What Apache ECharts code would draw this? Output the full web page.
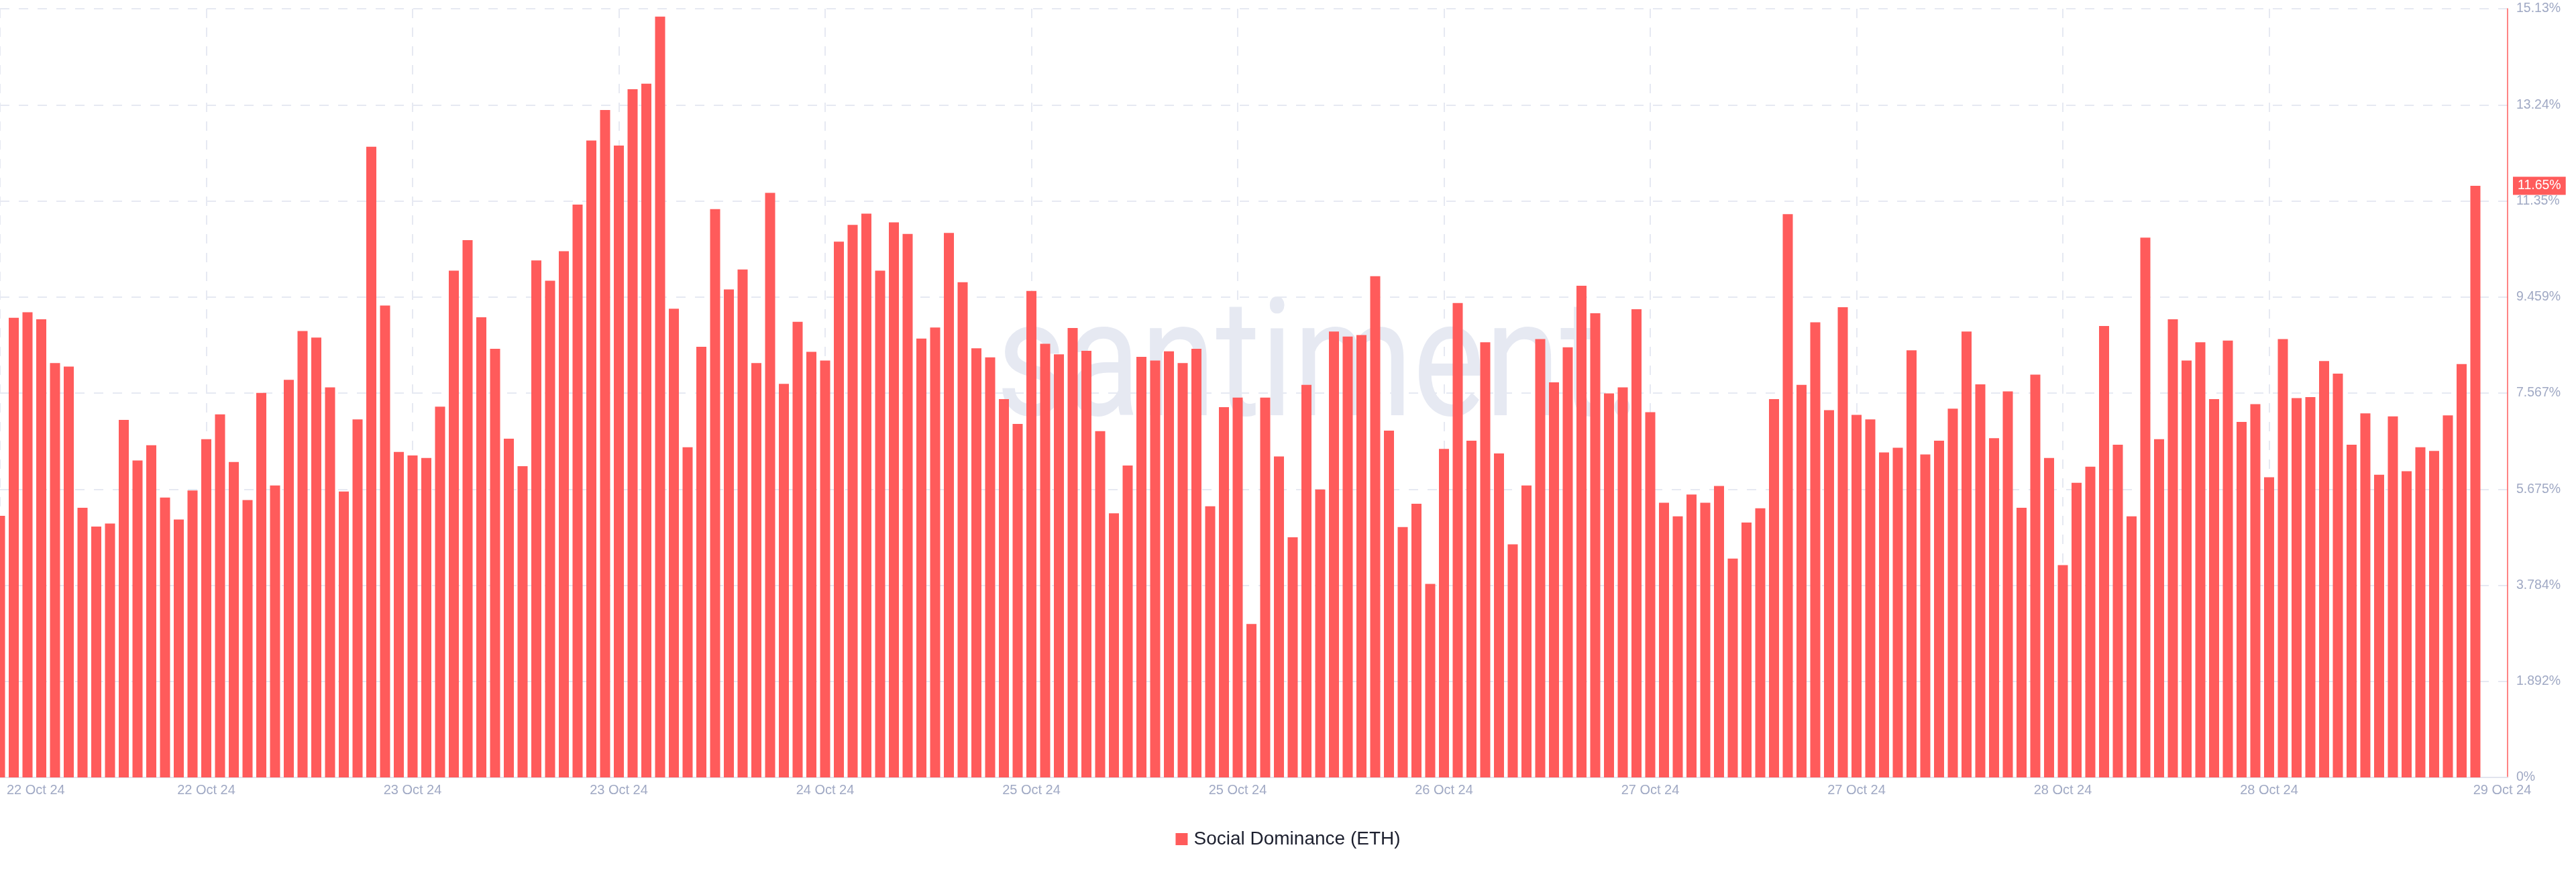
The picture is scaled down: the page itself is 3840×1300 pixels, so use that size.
<!DOCTYPE html>
<html>
<head>
<meta charset="utf-8">
<script src="https://cdn.jsdelivr.net/npm/echarts@6/dist/echarts.min.js"></script>
<style>
html,body{margin:0;padding:0;background:#ffffff;}
#chart{width:3840px;height:1300px;}
</style>
</head>
<body>
<div id="chart"></div>
<script>
// ---------- data ----------
const seriesName = 'Social Dominance (ETH)';
const startHourUTC = Date.UTC(2024, 9, 22, 0, 0); // first hourly bar
const values = [
  5.15, 9.05, 9.16, 9.02, 8.16, 8.09, 5.31, 4.94, 5.00, 7.04,
  6.24, 6.54, 5.51, 5.08, 5.65, 6.66, 7.15, 6.21, 5.46, 7.57,
  5.75, 7.83, 8.79, 8.66, 7.68, 5.63, 7.05, 12.42, 9.29, 6.41,
  6.34, 6.29, 7.30, 9.98, 10.58, 9.06, 8.44, 6.67, 6.13, 10.18,
  9.78, 10.36, 11.28, 12.54, 13.14, 12.44, 13.55, 13.66, 14.98, 9.23,
  6.50, 8.48, 11.19, 9.61, 10.00, 8.16, 11.51, 7.75, 8.97, 8.38,
  8.21, 10.55, 10.88, 11.10, 9.98, 10.93, 10.70, 8.64, 8.86, 10.72,
  9.75, 8.45, 8.27, 7.45, 6.96, 9.58, 8.54, 8.33, 8.85, 8.40,
  6.82, 5.20, 6.14, 8.28, 8.21, 8.39, 8.16, 8.44, 5.34, 7.29,
  7.48, 3.02, 7.48, 6.32, 4.73, 7.73, 5.67, 8.78, 8.68, 8.71,
  9.87, 6.83, 4.93, 5.39, 3.81, 6.47, 9.34, 6.63, 8.57, 6.38,
  4.59, 5.75, 8.63, 7.78, 8.47, 9.68, 9.14, 7.56, 7.68, 9.22,
  7.19, 5.41, 5.14, 5.57, 5.41, 5.74, 4.31, 5.02, 5.30, 7.45,
  11.09, 7.73, 8.96, 7.23, 9.26, 7.14, 7.05, 6.40, 6.49, 8.41,
  6.36, 6.63, 7.26, 8.78, 7.74, 6.68, 7.60, 5.31, 7.93, 6.29,
  4.18, 5.80, 6.12, 8.89, 6.55, 5.14, 10.63, 6.66, 9.02, 8.21,
  8.57, 7.45, 8.60, 7.00, 7.35, 5.91, 8.63, 7.47, 7.49, 8.20,
  7.95, 6.55, 7.17, 5.96, 7.11, 6.03, 6.50, 6.43, 7.13, 8.14,
  11.65
];
const xTickLabels = ['22 Oct 24', '22 Oct 24', '23 Oct 24', '23 Oct 24', '24 Oct 24', '25 Oct 24',
  '25 Oct 24', '26 Oct 24', '27 Oct 24', '27 Oct 24', '28 Oct 24', '28 Oct 24', '29 Oct 24'];
const yTickLabels = ['0%', '1.892%', '3.784%', '5.675%', '7.567%', '9.459%', '11.35%', '13.24%', '15.13%'];
const yInterval = 1.892;
const yMax = 15.136;
const tickEvery = 15;
const watermarkText = 'santiment.';

// hourly category keys
const categories = values.map(function (v, i) {
  return new Date(startHourUTC + i * 3600000).toISOString().slice(0, 16).replace('T', ' ');
});

// ---------- style ----------
const C = {
  bar: '#ff5b5b',
  grid: '#e6e9f2',
  label: '#a0a9c4',
  axis: '#e1e4ee',
  legend: '#1c1f2e',
  mark: '#e6e9f2'
};
const FONT = '"Liberation Sans", Arial, Helvetica, sans-serif';
const lastValue = values[values.length - 1];
const lastIdx = values.length - 1;

const chart = echarts.init(document.getElementById('chart'), null, { renderer: 'canvas' });

const option = {
  animation: false,
  backgroundColor: '#ffffff',
  graphic: [{
    type: 'text',
    z: -10,
    silent: true,
    x: 1485,
    y: 558,
    scaleY: 1.21,
    style: {
      text: watermarkText,
      font: '400 203px Roboto',
      fill: C.mark,
      textAlign: 'left',
      textVerticalAlign: 'middle'
    }
  }],
  grid: [
    { left: 0, right: 102, top: 13, bottom: 141 },
    { left: 0, right: 150, top: 13, bottom: 141 }
  ],
  legend: {
    data: [seriesName],
    left: 'center',
    top: 1232,
    icon: 'rect',
    itemWidth: 18,
    itemHeight: 18,
    selectedMode: false,
    textStyle: { fontSize: 28, color: C.legend, fontFamily: FONT, padding: [0, 0, 0, 4] }
  },
  xAxis: [
    {
      gridIndex: 0,
      type: 'category',
      boundaryGap: false,
      data: [xTickLabels[0], xTickLabels[xTickLabels.length - 1]],
      axisLine: { show: true, lineStyle: { color: C.axis, width: 2 } },
      axisTick: { show: false },
      splitLine: { show: false },
      axisLabel: {
        interval: 0,
        color: C.label,
        fontSize: 20,
        fontFamily: FONT,
        margin: 9,
        alignMinLabel: 'left',
        padding: [0, 26, 0, 10]
      }
    },
    {
      gridIndex: 1,
      type: 'category',
      boundaryGap: false,
      data: categories,
      axisLine: { show: false },
      axisTick: { show: false },
      axisLabel: {
        interval: function (i) { return i > 0 && i % tickEvery === 0 && i < lastIdx; },
        formatter: function (v, i) { return xTickLabels[Math.round(i / tickEvery)]; },
        color: C.label,
        fontSize: 20,
        fontFamily: FONT,
        margin: 9
      },
      splitLine: {
        show: true,
        interval: function (i) { return i % tickEvery === 0 && i < lastIdx; },
        lineStyle: { color: C.grid, width: 2, type: [14, 14] }
      }
    }
  ],
  yAxis: [
    {
      gridIndex: 0,
      type: 'value',
      position: 'right',
      min: 0,
      max: yMax,
      interval: yInterval,
      axisLine: { show: true, lineStyle: { color: C.bar, width: 1.5 } },
      axisTick: { show: false },
      axisLabel: {
        margin: 13,
        color: C.label,
        fontSize: 19.5,
        fontFamily: FONT,
        formatter: function (v) { return yTickLabels[Math.round(v / yInterval)]; }
      },
      splitLine: { show: true, lineStyle: { color: C.grid, width: 2, type: [14, 14] } }
    },
    {
      gridIndex: 1,
      type: 'value',
      min: 0,
      max: yMax,
      show: false
    }
  ],
  series: [{
    name: seriesName,
    type: 'bar',
    xAxisIndex: 1,
    yAxisIndex: 1,
    data: values,
    barWidth: 15,
    clip: true,
    itemStyle: { color: C.bar },
    emphasis: { disabled: true },
    markLine: {
      silent: true,
      symbol: 'none',
      animation: false,
      data: [{ yAxis: lastValue }],
      lineStyle: { color: 'rgba(0,0,0,0)', width: 0 },
      label: {
        show: true,
        position: 'end',
        distance: 56,
        formatter: function () { return lastValue.toFixed(2) + '%'; },
        color: '#ffffff',
        backgroundColor: C.bar,
        padding: [4, 7, 3, 7],
        fontSize: 19.5,
        fontFamily: FONT
      }
    }
  }]
};

chart.setOption(option);
</script>
</body>
</html>
